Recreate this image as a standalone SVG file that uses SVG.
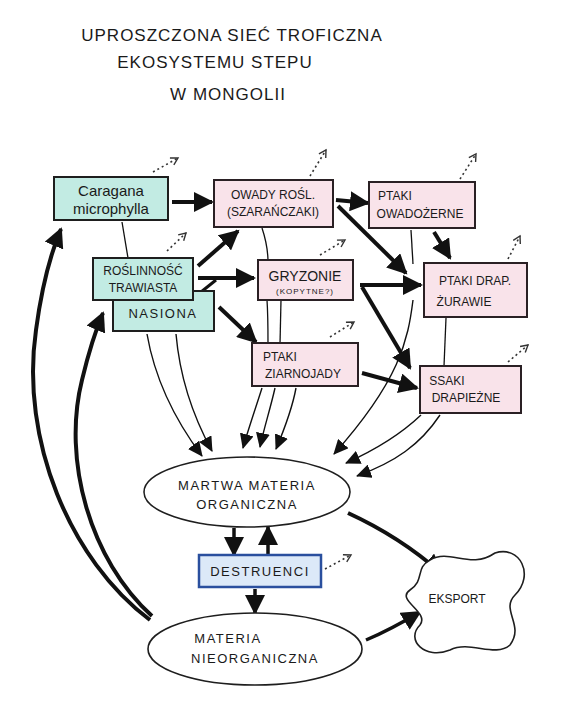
<svg xmlns="http://www.w3.org/2000/svg" width="562" height="720" viewBox="0 0 562 720">
<style>
.t{font-family:"Liberation Sans","DejaVu Sans",sans-serif;fill:#1a1a1a;text-anchor:middle}
.title{font-size:17px;letter-spacing:1px}
.lbl{font-size:12px}
.big{font-size:13px;letter-spacing:1.5px}
.sm{font-size:8px;letter-spacing:1px}
.teal{fill:#c2ebe3;stroke:#1e1e1e;stroke-width:2}
.pink{fill:#f9e3ea;stroke:#2a2024;stroke-width:2}
.blue{fill:#dce9f8;stroke:#2a4f9e;stroke-width:2.5}
.ell{fill:#fff;stroke:#1e1e1e;stroke-width:1.6}
.thick{fill:none;stroke:#111;stroke-width:4;marker-end:url(#big)}
.thin{fill:none;stroke:#111;stroke-width:1.4;marker-end:url(#small)}
.line{fill:none;stroke:#111;stroke-width:1.3}
.dot{fill:none;stroke:#333;stroke-width:1.6;stroke-dasharray:2 3;marker-end:url(#open)}
</style>
<defs>
<marker id="big" markerUnits="userSpaceOnUse" markerWidth="22" markerHeight="20" refX="18" refY="10" orient="auto"><path d="M0,0 L20,10 L0,20 Z" fill="#111"/></marker>
<marker id="small" markerUnits="userSpaceOnUse" markerWidth="16" markerHeight="14" refX="14" refY="7" orient="auto"><path d="M0,0 L15,7 L0,14 Z" fill="#111"/></marker>
<marker id="open" markerUnits="userSpaceOnUse" markerWidth="10" markerHeight="10" refX="8" refY="5" orient="auto"><path d="M1,1 L8,5 L1,9" fill="none" stroke="#333" stroke-width="1.4"/></marker>
</defs>
<rect width="562" height="720" fill="#fff"/>

<g id="title">
<text class="t title" x="232" y="41">UPROSZCZONA SIEĆ TROFICZNA</text>
<text class="t title" x="215" y="68">EKOSYSTEMU STEPU</text>
<text class="t title" x="228" y="100">W MONGOLII</text>
</g>

<g id="connectors">
<path class="line" d="M122,222 L128,258"/>
<path class="line" d="M262,228 C266,240 268,250 268,262"/>
<path class="line" d="M267,300 C268,315 268,330 268,344"/>
<path class="line" d="M281,300 L280,344"/>
<path class="line" d="M411,230 L413,264"/>
<path class="line" d="M446,318 L444,366"/>
<path class="thin" d="M147,334 C155,380 175,420 202,456"/>
<path class="thin" d="M176,334 C180,380 195,420 212,451"/>
<path class="thin" d="M262,388 C255,410 248,430 243,448"/>
<path class="thin" d="M275,388 C270,410 264,428 260,447"/>
<path class="thin" d="M296,388 C292,410 284,430 276,449"/>
<path class="thin" d="M413,300 C408,340 400,380 334,454"/>
<path class="thin" d="M421,415 C400,435 375,450 346,463"/>
<path class="thin" d="M440,415 C420,445 395,462 357,476"/>
<path class="thick" d="M172,202 L212,202"/>
<path class="thick" d="M198,266 L238,231"/>
<path class="thick" d="M198,278 L254,278"/>
<path class="line" style="stroke-width:3" d="M201,292 L216,280"/>
<path class="thick" d="M219,307 L256,342"/>
<path class="thick" d="M336,200 L368,203"/>
<path class="thick" d="M338,206 L406,273"/>
<path class="thick" d="M434,232 L450,258"/>
<path class="thick" d="M360,285 L421,285"/>
<path class="thick" d="M362,287 L410,368"/>
<path class="thick" d="M362,373 L417,388"/>
<path class="thick" style="stroke-width:3.5" d="M234,528 L234,555"/>
<path class="thick" style="stroke-width:3.5" d="M268,554 L268,527"/>
<path class="thick" style="stroke-width:3.5" d="M255,589 L255,613"/>
<path class="thick" d="M348,513 C385,530 415,550 441,573"/>
<path class="thick" style="stroke-width:3.5" d="M366,640 C385,632 400,624 420,612"/>
<path class="thick" d="M150,620 C70,560 20,440 36,330 C42,285 50,255 61,229"/>
<path class="thick" d="M152,616 C90,560 62,460 82,380 C88,355 94,334 103,313"/>
<path class="dot" d="M153,172 L178,158"/>
<path class="dot" d="M310,176 L326,150"/>
<path class="dot" d="M460,179 L476,154"/>
<path class="dot" d="M167,251 L186,233"/>
<path class="dot" d="M320,255 L345,240"/>
<path class="dot" d="M508,259 L520,236"/>
<path class="dot" d="M330,337 L354,322"/>
<path class="dot" d="M508,362 L528,345"/>
<path class="dot" d="M325,569 L351,555"/>
</g>

<g id="caragana">
<rect class="teal" x="54" y="177" width="114" height="43"/>
<text class="t" x="111" y="196" style="font-size:15px">Caragana</text>
<text class="t" x="111" y="214" style="font-size:15px">microphylla</text>
</g>
<g id="owady">
<rect class="pink" x="214" y="180" width="119" height="47"/>
<text class="t lbl" x="273" y="199">OWADY ROŚL.</text>
<text class="t lbl" x="273" y="216">(SZARAŃCZAKI)</text>
</g>
<g id="ptaki-owadozerne">
<rect class="pink" x="369" y="182" width="106" height="46"/>
<text class="t lbl" x="395" y="200">PTAKI</text>
<text class="t lbl" x="420" y="218">OWADOŻERNE</text>
</g>
<g id="nasiona">
<rect class="teal" x="113" y="291" width="101" height="40"/>
<text class="t big" x="163" y="318">NASIONA</text>
</g>
<g id="roslinnosc">
<rect class="teal" x="93" y="258" width="100" height="42"/>
<text class="t lbl" x="143" y="275">ROŚLINNOŚĆ</text>
<text class="t lbl" x="143" y="292">TRAWIASTA</text>
</g>
<g id="gryzonie">
<rect class="pink" x="258" y="260" width="95" height="40"/>
<text class="t" x="305" y="281" style="font-size:14px">GRYZONIE</text>
<text class="t sm" x="305" y="294">(KOPYTNE?)</text>
</g>
<g id="ptaki-drapiezne">
<rect class="pink" x="424" y="263" width="103" height="54"/>
<text class="t lbl" x="475" y="285">PTAKI DRAP.</text>
<text class="t lbl" x="464" y="306">ŻURAWIE</text>
</g>
<g id="ptaki-ziarnojady">
<rect class="pink" x="252" y="343" width="106" height="43"/>
<text class="t lbl" x="280" y="361">PTAKI</text>
<text class="t lbl" x="303" y="378">ZIARNOJADY</text>
</g>
<g id="ssaki">
<rect class="pink" x="420" y="366" width="101" height="47"/>
<text class="t lbl" x="447" y="385">SSAKI</text>
<text class="t lbl" x="466" y="402">DRAPIEŻNE</text>
</g>
<g id="martwa">
<ellipse class="ell" cx="247" cy="492" rx="103" ry="35"/>
<text class="t big" x="247" y="490">MARTWA MATERIA</text>
<text class="t big" x="247" y="509">ORGANICZNA</text>
</g>
<g id="destruenci">
<rect class="blue" x="199" y="555" width="122" height="32"/>
<text class="t big" x="260" y="576">DESTRUENCI</text>
</g>
<g id="nieorganiczna">
<ellipse class="ell" cx="255" cy="649" rx="107" ry="36"/>
<text class="t big" x="228" y="643">MATERIA</text>
<text class="t big" x="255" y="663">NIEORGANICZNA</text>
</g>
<g id="eksport">
<path class="ell" d="M430,560 C450,548 470,570 495,553 C520,545 535,575 515,595 C500,610 525,625 510,645 C495,658 470,640 450,650 C425,660 405,640 420,625 C430,612 395,600 410,590 C425,580 415,568 430,560 Z"/>
<text class="t lbl" x="457" y="603">EKSPORT</text>
</g>
</svg>
